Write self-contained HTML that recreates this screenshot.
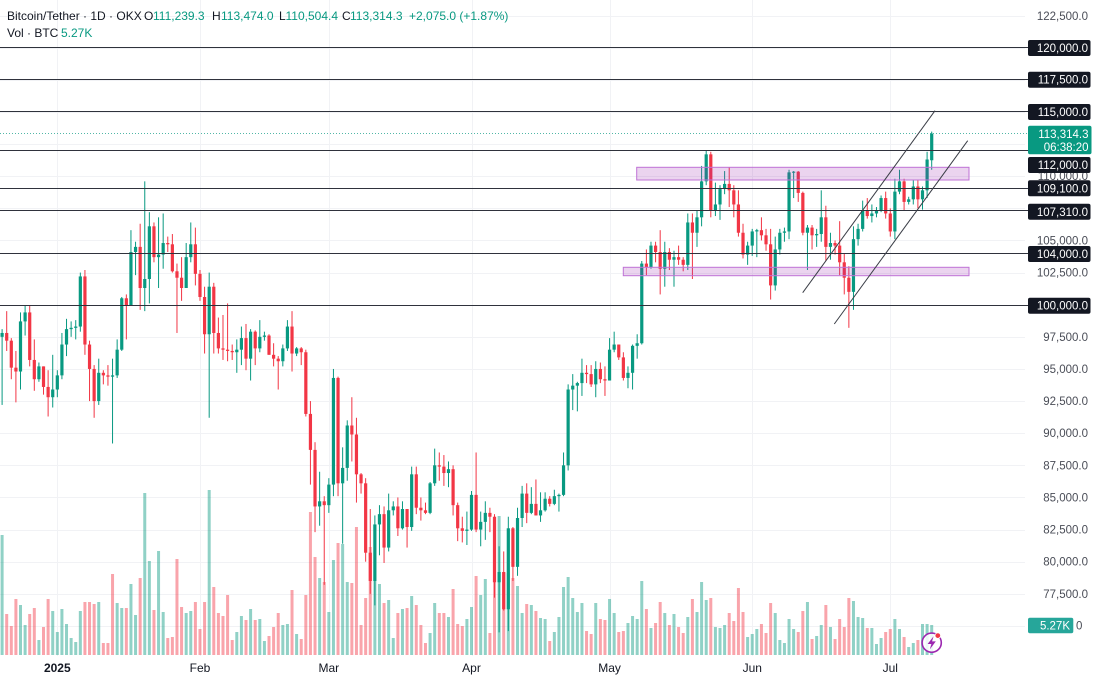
<!DOCTYPE html>
<html>
<head>
<meta charset="utf-8">
<style>
html,body{margin:0;padding:0;background:#fff;}
body{width:1095px;height:675px;overflow:hidden;}
svg{display:block;font-family:"Liberation Sans",Arial,sans-serif;}
</style>
</head>
<body>
<svg id="c" width="1095" height="675" viewBox="0 0 1095 675" xmlns="http://www.w3.org/2000/svg">
  <g id="grid" stroke="#f1f2f5" stroke-width="1"></g>
  <g id="vol"></g>
  <g id="candles"></g>
  <!-- purple zones -->
  <rect x="636.7" y="167.3" width="332.3" height="12.7" fill="rgba(156,39,176,0.2)" stroke="#bf72d6" stroke-width="1"/>
  <rect x="623.3" y="267.3" width="345.7" height="8.4" fill="rgba(156,39,176,0.2)" stroke="#bf72d6" stroke-width="1"/>
  <!-- horizontal price lines -->
  <g stroke="#2f323c" stroke-width="1">
    <line x1="0" y1="47.5" x2="1029" y2="47.5"/>
    <line x1="0" y1="79.5" x2="1029" y2="79.5"/>
    <line x1="0" y1="111.5" x2="1029" y2="111.5"/>
    <line x1="0" y1="150.5" x2="1029" y2="150.5"/>
    <line x1="0" y1="188.5" x2="1029" y2="188.5"/>
    <line x1="0" y1="210.5" x2="1029" y2="210.5"/>
    <line x1="0" y1="253.5" x2="1029" y2="253.5"/>
    <line x1="0" y1="305.5" x2="1029" y2="305.5"/>
  </g>
  <!-- current price dotted line -->
  <line x1="0" y1="133.5" x2="1028" y2="133.5" stroke="#089981" stroke-opacity="0.7" stroke-width="1" stroke-dasharray="1,2"/>
  <!-- channel lines -->
  <g stroke="#3a3d46" stroke-width="1">
    <line x1="802.7" y1="292.7" x2="935" y2="110.7"/>
    <line x1="834.3" y1="324" x2="967.7" y2="140.7"/>
  </g>

  <!-- header -->
  <g font-size="12" fill="#131722">
    <text x="7" y="20">Bitcoin/Tether · 1D · OKX</text>
    <text x="144" y="20">O</text><text x="153" y="20" fill="#089981">111,239.3</text>
    <text x="212" y="20">H</text><text x="221" y="20" fill="#089981">113,474.0</text>
    <text x="279" y="20">L</text><text x="285.5" y="20" fill="#089981">110,504.4</text>
    <text x="342" y="20">C</text><text x="350" y="20" fill="#089981">113,314.3</text>
    <text x="409" y="20" fill="#089981">+2,075.0 (+1.87%)</text>
    <text x="7" y="37">Vol · BTC</text>
    <text x="61" y="37" fill="#089981">5.27K</text>
  </g>

  <!-- x axis labels -->
  <g font-size="12" fill="#131722" text-anchor="middle">
    <text x="57.3" y="672" font-weight="bold">2025</text>
    <text x="200" y="672">Feb</text>
    <text x="328.8" y="672">Mar</text>
    <text x="471.5" y="672">Apr</text>
    <text x="609.6" y="672">May</text>
    <text x="752.3" y="672">Jun</text>
    <text x="890.3" y="672">Jul</text>
  </g>

  <!-- right axis plain labels -->
  <g font-size="11.5" fill="#4a4d57" text-anchor="end">
    <text x="1088" y="19.8">122,500.0</text>
    <text x="1088" y="180.2">110,000.0</text>
    <text x="1088" y="244.5">105,000.0</text>
    <text x="1088" y="276.6">102,500.0</text>
    <text x="1088" y="340.8">97,500.0</text>
    <text x="1088" y="373">95,000.0</text>
    <text x="1088" y="405.1">92,500.0</text>
    <text x="1088" y="437.2">90,000.0</text>
    <text x="1088" y="469.3">87,500.0</text>
    <text x="1088" y="501.4">85,000.0</text>
    <text x="1088" y="533.6">82,500.0</text>
    <text x="1088" y="565.7">80,000.0</text>
    <text x="1088" y="597.8">77,500.0</text>
    <text x="1076" y="629.5" text-anchor="start">0</text>
  </g>

  <!-- right axis boxes -->
  <g>
    <rect x="1028" y="40" width="62.5" height="16" rx="2" fill="#131722"/>
    <rect x="1028" y="71.7" width="62.5" height="16" rx="2" fill="#131722"/>
    <rect x="1028" y="104" width="62.5" height="16" rx="2" fill="#131722"/>
    <rect x="1028" y="125.7" width="63.5" height="28.6" rx="2" fill="#089981"/>
    <rect x="1028" y="157" width="62.5" height="16" rx="2" fill="#131722"/>
    <rect x="1028" y="180.3" width="62.5" height="16" rx="2" fill="#131722"/>
    <rect x="1028" y="203.8" width="62.5" height="16" rx="2" fill="#131722"/>
    <rect x="1028" y="246" width="62.5" height="16" rx="2" fill="#131722"/>
    <rect x="1028" y="297.7" width="62.5" height="16" rx="2" fill="#131722"/>
    <rect x="1028" y="617.7" width="45.3" height="15.6" rx="2" fill="#26a69a"/>
  </g>
  <g font-size="11.5" fill="#ffffff" text-anchor="end">
    <text x="1088" y="52">120,000.0</text>
    <text x="1088" y="83.7">117,500.0</text>
    <text x="1088" y="116">115,000.0</text>
    <text x="1088.5" y="138">113,314.3</text>
    <text x="1088.5" y="151">06:38:20</text>
    <text x="1088" y="169">112,000.0</text>
    <text x="1088" y="192.3">109,100.0</text>
    <text x="1088" y="215.8">107,310.0</text>
    <text x="1088" y="258">104,000.0</text>
    <text x="1088" y="309.7">100,000.0</text>
    <text x="1070" y="629.5">5.27K</text>
  </g>

  <!-- lightning icon -->
  <circle cx="931.7" cy="642.7" r="9.6" fill="rgba(255,255,255,0.85)" stroke="#9c27b0" stroke-width="1.6"/>
  <polygon points="933.6,636.2 927.6,644 931.4,644 929.8,649.4 935.8,641.4 932,641.4" fill="#9c27b0"/>
  <circle cx="937.8" cy="635.6" r="2.8" fill="#f23645" stroke="#fff" stroke-width="0.8"/>
</svg>

<script>
(function(){
  var NS="http://www.w3.org/2000/svg";
  function el(name, attrs, parent){
    var e=document.createElementNS(NS,name);
    for(var k in attrs) e.setAttribute(k, attrs[k]);
    parent.appendChild(e); return e;
  }
  function Y(p){ return 47.7 + (120 - p)*12.85; }
  var X0=11.3, S=4.602;
  function X(idx){ return X0 + idx*S; }

  // grid
  var g=document.getElementById('grid');
  for(var p=75; p<=122.5; p+=2.5){
    var y=Math.round(Y(p))+0.5;
    el('line',{x1:0,y1:y,x2:1025,y2:y},g);
  }
  [10,41,69,100,130,161,191].forEach(function(i){
    var x=Math.round(X(i))+0.5;
    el('line',{x1:x,y1:0,x2:x,y2:656},g);
  });

  // OHLC data from Dec 20 2024 (idx -2) to Jul 10 2025
  var raw =
  "97.5 98.1 92.2 97.8|97.8 99.5 96.4 97.2|97.2 97.4 94.2 95.1|95.1 96.4 92.4 94.8|94.8 99.4 93.4 98.7|98.7 99.9 97.6 99.4|99.4 99.9 95.2 95.7|95.7 97.3 93.3 94.2|94.2 95.5 94.0 95.2|95.2 95.2 93.0 93.6|93.6 94.9 91.3 92.8|92.8 96.1 92.0 93.4|"+
  // Jan
  "93.4 94.9 92.8 94.5|94.5 97.8 94.2 96.9|96.9 98.9 96.0 98.1|98.1 98.7 97.5 98.2|98.2 98.8 97.3 98.3|98.3 102.5 97.9 102.2|102.2 102.7 96.1 96.9|96.9 97.2 92.5 95.0|95.0 95.3 91.2 92.5|92.5 95.8 92.2 94.7|"+
  "94.7 94.9 93.8 94.5|94.5 95.3 93.7 94.4|94.4 95.8 89.2 94.5|94.5 97.3 94.3 96.5|96.5 100.6 96.4 100.5|100.5 100.8 97.3 99.9|99.9 105.8 99.9 104.1|104.1 104.9 102.3 104.5|104.5 106.3 99.6 101.3|101.3 109.6 99.5 102.0|"+
  "102.0 107.2 100.1 106.1|106.1 106.4 103.3 103.7|103.7 106.8 101.3 103.9|103.9 107.1 102.8 104.8|104.8 105.3 104.1 104.7|104.7 105.5 102.5 102.6|102.6 103.2 97.8 102.1|102.1 103.7 100.3 101.3|101.3 104.8 101.3 103.7|103.7 106.4 103.3 104.7|104.7 106.0 101.5 102.4|"+
  // Feb
  "102.4 102.7 100.3 100.6|100.6 101.4 96.2 97.7|97.7 102.5 91.2 101.4|101.4 101.7 96.2 97.8|97.8 99.0 96.2 96.6|96.6 99.2 95.7 96.5|96.5 100.1 95.6 96.4|96.4 96.9 95.7 96.3|96.3 97.3 94.7 96.5|96.5 98.3 95.3 97.4|"+
  "97.4 98.5 94.9 95.8|95.8 98.1 94.1 97.9|97.9 98.0 95.3 96.6|96.6 98.8 96.3 97.5|97.5 97.9 97.2 97.6|97.6 97.7 96.1 96.1|96.1 97.0 95.2 95.8|95.8 96.0 93.4 95.6|95.6 96.9 95.2 96.6|96.6 98.8 96.4 98.3|"+
  "98.3 99.5 94.8 96.2|96.2 96.7 96.0 96.6|96.6 96.7 95.3 96.3|96.3 96.5 91.3 91.5|91.5 92.5 86.0 88.7|88.7 89.3 82.3 84.3|84.3 87.0 82.8 84.7|84.7 85.1 78.2 84.4|"+
  // Mar
  "84.4 86.5 83.8 86.0|86.0 95.0 85.1 94.3|94.3 94.4 85.1 86.1|86.1 88.9 81.4 87.3|87.3 91.0 86.3 90.6|90.6 92.8 87.8 89.9|89.9 91.2 84.6 86.8|86.8 86.9 85.3 86.1|86.1 86.5 80.0 80.7|80.7 84.1 77.5 78.5|"+
  "78.5 83.6 76.6 82.9|82.9 84.4 80.5 83.7|83.7 84.3 79.9 81.1|81.1 85.3 80.8 84.0|84.0 84.7 83.6 84.3|84.3 85.0 82.0 82.6|82.6 84.7 82.5 84.1|84.1 84.1 81.1 82.7|82.7 87.4 82.4 86.8|86.8 87.4 83.7 84.2|"+
  "84.2 85.0 83.2 84.0|84.0 84.6 83.7 83.8|83.8 86.2 83.7 86.1|86.1 88.8 85.9 87.5|87.5 88.5 86.3 87.4|87.4 88.3 85.9 86.9|86.9 87.8 85.8 87.2|87.2 87.5 83.6 84.4|84.4 84.6 81.6 82.6|82.6 83.5 81.5 82.4|82.4 83.9 81.3 82.5|"+
  // Apr
  "82.5 85.5 82.4 85.2|85.2 88.5 82.3 82.5|82.5 83.9 81.2 83.1|83.1 84.7 81.7 83.8|83.8 84.2 82.3 83.5|83.5 83.7 77.2 78.4|78.4 81.2 74.5 79.2|79.2 80.8 76.2 76.3|76.3 83.5 74.6 82.6|82.6 82.7 78.5 79.6|"+
  "79.6 84.2 78.9 83.4|83.4 85.9 82.7 85.3|85.3 86.1 83.0 83.8|83.8 85.8 83.7 84.5|84.5 86.4 83.6 83.6|83.6 85.4 83.1 84.0|84.0 85.4 83.9 84.9|84.9 85.1 84.3 84.5|84.5 85.6 84.4 85.1|85.1 85.3 83.9 85.2|"+
  "85.2 88.5 85.1 87.5|87.5 93.8 87.1 93.4|93.4 94.6 91.8 93.7|93.7 94.0 91.7 93.9|93.9 95.8 92.9 94.7|94.7 95.3 93.9 94.6|94.6 95.3 93.6 93.8|93.8 95.6 92.8 95.0|95.0 95.5 93.9 94.2|94.2 95.2 92.9 94.1|"+
  // May
  "94.1 97.4 94.1 96.5|96.5 97.9 96.3 96.9|96.9 96.9 95.7 95.9|95.9 96.3 94.1 94.3|94.3 95.2 93.5 94.7|94.7 96.9 93.4 96.8|96.8 97.7 95.8 97.0|97.0 103.4 96.9 103.2|103.2 104.3 102.3 102.9|102.9 104.9 102.8 104.6|"+
  "104.6 104.9 103.3 104.1|104.1 105.8 100.8 102.8|102.8 104.9 101.4 104.1|104.1 104.4 102.7 103.5|103.5 104.2 101.4 103.7|103.7 104.6 103.1 103.5|103.5 103.7 102.6 103.1|103.1 107.1 102.7 106.4|106.4 107.1 102.0 105.6|105.6 107.3 104.5 106.8|"+
  "106.8 110.8 106.1 109.6|109.6 112.0 109.3 111.7|111.7 111.9 106.8 107.3|107.3 109.5 106.9 107.8|107.8 109.3 106.6 109.0|109.0 110.4 108.6 109.4|109.4 110.7 107.6 108.9|108.9 109.3 106.8 107.8|107.8 108.9 105.3 105.6|105.6 106.3 103.6 103.9|103.9 104.9 103.1 104.6|"+
  // Jun
  "104.6 105.9 103.8 105.7|105.7 105.9 103.7 105.8|105.8 106.8 105.0 105.4|105.4 105.9 104.2 104.7|104.7 105.9 100.4 101.5|101.5 105.3 101.1 104.3|104.3 105.9 103.9 105.6|105.6 106.0 104.9 105.7|105.7 110.5 105.1 110.3|110.3 110.4 108.3 110.35|"+
  "110.35 110.4 108.0 108.7|108.7 108.8 105.4 105.6|105.6 106.2 102.7 106.0|106.0 106.2 104.3 105.4|105.4 105.9 104.5 105.5|105.5 108.9 104.9 106.8|106.8 107.7 103.4 104.5|104.5 105.6 103.5 104.8|104.8 105.0 103.9 104.6|104.6 106.5 102.3 103.3|"+
  "103.3 104.0 100.8 102.1|102.1 103.0 98.2 101.0|101.0 106.1 99.6 105.1|105.1 106.3 104.6 105.9|105.9 108.1 105.7 107.3|107.3 108.3 106.7 106.9|106.9 107.8 106.4 107.1|107.1 107.6 106.8 107.3|107.3 108.5 107.2 108.3|108.3 108.8 106.7 107.1|"+
  // Jul
  "107.1 107.5 105.3 105.7|105.7 109.8 105.1 108.8|108.8 110.5 108.6 109.6|109.6 109.8 107.3 108.0|108.0 108.4 107.8 108.2|108.2 109.7 107.8 109.2|109.2 109.7 107.5 108.2|108.2 109.2 107.4 108.9|108.9 111.9 108.3 111.3|111.24 113.47 110.5 113.31";

  var vols=[120,-41,-29,-56,50,30,-41,-47,15,-28,-56,44,
  23,46,31,17,13,44,-53,-53,-51,53,-12,-12,-81,52,47,-47,71,40,-77,162,94,-45,104,43,-17,-18,-96,-48,42,44,-53,
  -26,-53,165,-68,-42,-39,-60,-15,23,39,-35,46,-35,36,14,-19,-28,-42,30,31,-65,21,-16,-60,-143,-98,77,-73,
  43,95,-112,111,73,-72,-128,-30,-57,-108,74,71,-52,55,17,-42,46,-47,59,-50,-30,-12,22,52,-42,-42,38,-66,-31,-29,36,
  48,-79,60,76,-22,-77,139,-82,82,-77,69,42,-51,50,-44,37,36,-14,23,38,68,78,57,43,52,-24,-21,52,-36,-35,
  56,42,-23,-24,32,39,36,74,-46,27,-32,-53,42,-30,41,-28,-22,38,-56,43,73,55,-57,28,27,30,-42,-34,-67,-43,18,
  21,26,-31,-22,-52,42,15,12,36,26,-23,-44,53,-16,19,30,-50,28,-16,-36,-28,-57,54,38,37,-27,27,11,17,-23,
  -26,36,26,-18,8,12,-15,31,31,30];

  var vg=document.getElementById('vol');
  for(var i=0;i<vols.length;i++){
    var v=vols[i], idx=i-2, x=X(idx), h=Math.abs(v);
    el('rect',{x:(x-1.5).toFixed(2),y:(655-h).toFixed(2),width:3,height:h,
      fill: v>=0 ? 'rgba(8,153,129,0.45)' : 'rgba(242,54,69,0.45)'},vg);
  }

  var cg=document.getElementById('candles');
  var rows=raw.split('|');
  for(var j=0;j<rows.length;j++){
    var a=rows[j].trim().split(/\s+/).map(Number);
    var o=a[0],hh=a[1],l=a[2],c=a[3];
    var idx=j-2, x=X(idx);
    var up=c>=o, col=up?'#089981':'#f23645';
    var yh=Y(hh), yl=Y(l), yo=Y(o), yc=Y(c);
    el('rect',{x:(x-0.5).toFixed(2),y:yh.toFixed(2),width:1,height:Math.max(1,yl-yh).toFixed(2),fill:col},cg);
    var top=Math.min(yo,yc), bh=Math.max(1,Math.abs(yo-yc));
    el('rect',{x:(x-1.6).toFixed(2),y:top.toFixed(2),width:3.2,height:bh.toFixed(2),fill:col},cg);
  }
})();
</script>
</body>
</html>
